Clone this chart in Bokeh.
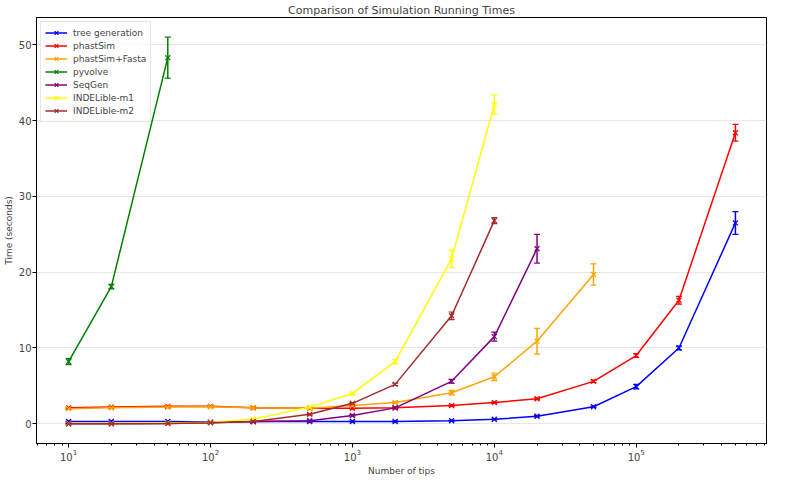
from bokeh.plotting import figure
from bokeh.models import (ColumnDataSource, Whisker, TeeHead, Legend, LegendItem,
                          Range1d, SingleIntervalTicker, LogTicker)
from bokeh.embed import file_html
from bokeh.resources import INLINE

tips = [10, 20, 50, 100, 200, 500, 1000, 2000, 5000, 10000, 20000, 50000, 100000, 200000, 500000]

series_names = ["tree generation", "phastSim", "phastSim+Fasta", "pyvolve", "SeqGen",
                "INDELible-m1", "INDELible-m2"]
series_colors = ["blue", "red", "orange", "green", "purple", "yellow", "brown"]

tree_generation = [0.3, 0.3, 0.3, 0.25, 0.3, 0.3, 0.3, 0.3, 0.4, 0.6, 1.0, 2.25, 4.9, 10.0, 26.5]
tree_generation_err = [0.05, 0.05, 0.05, 0.05, 0.05, 0.05, 0.05, 0.05, 0.05, 0.05, 0.1, 0.1, 0.3, 0.25, 1.5]

phastsim = [2.1, 2.2, 2.3, 2.3, 2.1, 2.05, 2.05, 2.1, 2.4, 2.8, 3.3, 5.6, 9.0, 16.3, 38.4]
phastsim_err = [0.1, 0.1, 0.1, 0.1, 0.1, 0.1, 0.1, 0.1, 0.1, 0.1, 0.1, 0.15, 0.25, 0.5, 1.1]

phastsim_fasta = [2.0, 2.1, 2.2, 2.25, 2.1, 2.05, 2.4, 2.8, 4.1, 6.2, 10.9, 19.7]
phastsim_fasta_err = [0.1, 0.1, 0.1, 0.1, 0.1, 0.1, 0.1, 0.1, 0.3, 0.5, 1.7, 1.4]

pyvolve = [8.2, 18.1, 48.3]
pyvolve_err = [0.4, 0.3, 2.7]

seqgen = [0.0, 0.0, 0.05, 0.15, 0.3, 0.4, 1.1, 2.1, 5.6, 11.5, 23.1]
seqgen_err = [0.05, 0.05, 0.05, 0.05, 0.05, 0.05, 0.1, 0.1, 0.25, 0.6, 1.9]

indelible_m1 = [0.05, 0.05, 0.1, 0.2, 0.6, 2.2, 4.0, 8.2, 21.75, 42.1]
indelible_m1_err = [0.05, 0.05, 0.05, 0.05, 0.1, 0.1, 0.15, 0.3, 1.15, 1.25]

indelible_m2 = [0.0, 0.0, 0.05, 0.15, 0.3, 1.25, 2.7, 5.2, 14.25, 26.8]
indelible_m2_err = [0.05, 0.05, 0.05, 0.05, 0.05, 0.1, 0.1, 0.15, 0.5, 0.4]

series_values = [tree_generation, phastsim, phastsim_fasta, pyvolve, seqgen, indelible_m1, indelible_m2]
series_errors = [tree_generation_err, phastsim_err, phastsim_fasta_err, pyvolve_err, seqgen_err,
                 indelible_m1_err, indelible_m2_err]

FONT = "DejaVu Sans"

p = figure(width=769, height=478, x_axis_type="log",
           x_range=Range1d(5.94, 828000), y_range=Range1d(-2.6, 53.6),
           output_backend="svg", toolbar_location=None,
           title="Comparison of Simulation Running Times",
           min_border_left=0, min_border_right=3, min_border_top=2, min_border_bottom=0)

p.title.align = "center"
p.title.text_font = FONT
p.title.text_font_size = "11px"
p.title.text_font_style = "normal"
p.title.offset = 0
p.title.standoff = 2

p.background_fill_color = "white"
p.border_fill_color = "white"
p.outline_line_color = "black"
p.outline_line_width = 1

p.xgrid.grid_line_color = None
p.ygrid.grid_line_color = "#e6e6e6"
p.ygrid.grid_line_width = 1

p.yaxis.ticker = SingleIntervalTicker(interval=10, num_minor_ticks=0)
p.xaxis.ticker = LogTicker(num_minor_ticks=10)

for ax in (p.xaxis, p.yaxis):
    ax.major_label_text_font = FONT
    ax.major_label_text_font_size = "10px"
    ax.axis_label_text_font = FONT
    ax.axis_label_text_font_size = "9px"
    ax.axis_label_text_font_style = "normal"
    ax.axis_line_color = "black"
    ax.major_tick_line_color = "black"
    ax.minor_tick_line_color = "black"
    ax.major_tick_in = 0
    ax.major_tick_out = 4
    ax.minor_tick_in = 0
    ax.minor_tick_out = 2
    ax.major_label_standoff = 1
    ax.axis_label_standoff = 2

p.xaxis.axis_label = "Number of tips"
p.yaxis.axis_label = "Time (seconds)"

items = []
for name, color, vals, errs in zip(series_names, series_colors, series_values, series_errors):
    n = len(vals)
    xs = tips[:n]
    src = ColumnDataSource(dict(
        x=xs, y=vals,
        upper=[v + e for v, e in zip(vals, errs)],
        lower=[v - e for v, e in zip(vals, errs)],
    ))
    ln = p.line("x", "y", source=src, line_color=color, line_width=1.5)
    wk = Whisker(source=src, base="x", upper="upper", lower="lower",
                 line_color=color, line_width=1.5,
                 upper_head=TeeHead(size=6, line_color=color, line_width=1.2),
                 lower_head=TeeHead(size=6, line_color=color, line_width=1.2))
    p.add_layout(wk)
    sc = p.scatter("x", "y", source=src, marker="x", size=7, line_color=color, line_width=1.3)
    items.append(LegendItem(label=name, renderers=[ln, sc]))

legend = Legend(items=items, location="top_left")
legend.label_text_font = FONT
legend.label_text_font_size = "9px"
legend.label_height = 10
legend.glyph_height = 13
legend.glyph_width = 22
legend.spacing = 0
legend.padding = 4
legend.margin = 4
legend.border_line_color = "#cccccc"
legend.border_line_width = 1
legend.background_fill_alpha = 0.8
legend.label_standoff = 6
p.add_layout(legend)

open("out.html", "w").write(file_html(p, INLINE))
